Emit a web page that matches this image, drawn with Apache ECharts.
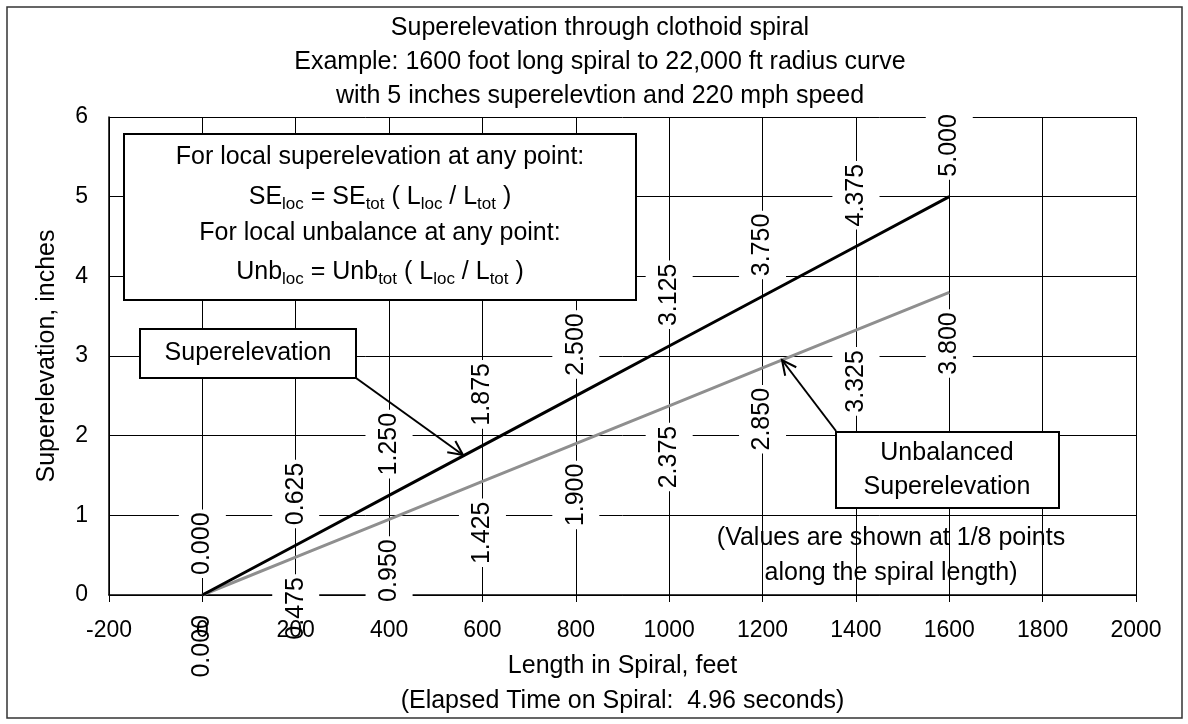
<!DOCTYPE html>
<html>
<head>
<meta charset="utf-8">
<script src="https://cdn.jsdelivr.net/npm/echarts@6/dist/echarts.min.js"></script>
<style>
  html, body { margin: 0; padding: 0; background: #fff; }
  #chart { width: 1188px; height: 724px; }
</style>
</head>
<body>
<div id="chart"></div>
<script>
// spiral length (ft) at 1/8 points
const spiralLen = [0, 200, 400, 600, 800, 1000, 1200, 1400, 1600];
const superElev = [0, 0.625, 1.25, 1.875, 2.5, 3.125, 3.75, 4.375, 5.0];
const unbalanced = [0, 0.475, 0.95, 1.425, 1.9, 2.375, 2.85, 3.325, 3.8];

const titleLines = [
  'Superelevation through clothoid spiral',
  'Example: 1600 foot long spiral to 22,000 ft radius curve',
  'with 5 inches superelevtion and 220 mph speed'
];

const FONT = '"Liberation Sans", Arial, sans-serif';

let chart = echarts.init(document.getElementById('chart'));

function pairs(ys) {
  return spiralLen.map((x, i) => [x, ys[i]]);
}

// open V arrow head at (x2,y2)
function arrowHead(x1, y1, x2, y2, len, ang) {
  let a = Math.atan2(y1 - y2, x1 - x2);
  return [
    [x2 + len * Math.cos(a + ang), y2 + len * Math.sin(a + ang)],
    [x2, y2],
    [x2 + len * Math.cos(a - ang), y2 + len * Math.sin(a - ang)]
  ];
}

function dataLabel(pos) {
  return {
    show: true,
    position: pos,
    distance: 17,
    rotate: 90,
    align: pos === 'top' ? 'left' : 'right',
    verticalAlign: 'middle',
    fontFamily: FONT,
    fontSize: 25,
    lineHeight: 25,
    color: '#000',
    backgroundColor: '#fff',
    padding: [11, 3],
    formatter: p => p.value[1].toFixed(3)
  };
}

let txt = (x, y, text, extra) => Object.assign({
  type: 'text',
  x: x, y: y,
  style: Object.assign({
    text: text,
    fill: '#000',
    font: '25px ' + FONT,
    align: 'center',
    verticalAlign: 'middle'
  }, extra || {})
});

let sub = { fontSize: 17, lineHeight: 17, verticalAlign: 'bottom', fontFamily: FONT };
let main = { fontSize: 25, lineHeight: 32, verticalAlign: 'middle', fontFamily: FONT };

let graphics = [
  // outer frame
  { type: 'rect', shape: { x: 7, y: 7, width: 1175, height: 711 },
    style: { fill: 'none', stroke: '#333', lineWidth: 1.5 }, z: 10 },
  txt(600, 28, titleLines[0]),
  txt(600, 62, titleLines[1]),
  txt(600, 96, titleLines[2]),

  // formula box
  { type: 'rect', shape: { x: 124, y: 134, width: 512, height: 166 },
    style: { fill: '#fff', stroke: '#000', lineWidth: 2 }, z: 20 },
  txt(380, 157, 'For local superelevation at any point:'),
  { type: 'text', x: 380, y: 197,
    style: {
      text: '{m|SE}{s|loc}{m| = SE}{s|tot}{m| ( L}{s|loc}{m| / L}{s|tot}{m| )}',
      rich: { m: main, s: sub }, fill: '#000', align: 'center', verticalAlign: 'middle'
    } },
  txt(380, 233, 'For local unbalance at any point:'),
  { type: 'text', x: 380, y: 272,
    style: {
      text: '{m|Unb}{s|loc}{m| = Unb}{s|tot}{m| ( L}{s|loc}{m| / L}{s|tot}{m| )}',
      rich: { m: main, s: sub }, fill: '#000', align: 'center', verticalAlign: 'middle'
    } },

  // Superelevation callout
  { type: 'line', shape: { x1: 356, y1: 378, x2: 463, y2: 455 },
    style: { stroke: '#000', lineWidth: 2 }, z: 20 },
  { type: 'polyline', shape: { points: arrowHead(356, 378, 463, 455, 16, 0.45) },
    style: { stroke: '#000', lineWidth: 2, fill: 'none' }, z: 20 },
  { type: 'rect', shape: { x: 140, y: 329, width: 216, height: 49 },
    style: { fill: '#fff', stroke: '#000', lineWidth: 2 }, z: 20 },
  txt(248, 353, 'Superelevation'),

  // Unbalanced callout
  { type: 'line', shape: { x1: 836, y1: 431, x2: 782, y2: 360 },
    style: { stroke: '#000', lineWidth: 2 }, z: 20 },
  { type: 'polyline', shape: { points: arrowHead(836, 431, 782, 360, 16, 0.45) },
    style: { stroke: '#000', lineWidth: 2, fill: 'none' }, z: 20 },
  { type: 'rect', shape: { x: 836, y: 432, width: 223, height: 76 },
    style: { fill: '#fff', stroke: '#000', lineWidth: 2 }, z: 20 },
  txt(947, 453, 'Unbalanced'),
  txt(947, 487, 'Superelevation'),

  txt(891, 538, '(Values are shown at 1/8 points'),
  txt(891, 573, 'along the spiral length)')
];
graphics.forEach(g => { if (g.type === 'text' && g.z == null) g.z = 21; });

let tickLabel = {
  color: '#000', fontSize: 23, margin: 24, fontFamily: FONT,
  showMinLabel: true, showMaxLabel: true,
  formatter: v => String(v)
};

let option = {
  animation: false,
  backgroundColor: '#fff',
  textStyle: { fontFamily: FONT },
  grid: { left: 109, right: 52, top: 117, bottom: 122 },
  xAxis: [{
    type: 'value',
    min: -200, max: 2000, interval: 200,
    name: 'Length in Spiral, feet\n(Elapsed Time on Spiral:  4.96 seconds)',
    nameLocation: 'middle',
    nameGap: 54,
    nameTextStyle: { color: '#000', fontSize: 25, lineHeight: 35, fontFamily: FONT, verticalAlign: 'top' },
    axisLine: { onZero: false, lineStyle: { color: '#000', width: 1.5 } },
    axisTick: { show: true, length: 7, lineStyle: { color: '#000' } },
    axisLabel: { show: false },
    splitLine: { show: true, lineStyle: { color: '#000', width: 1 } }
  }, {
    // same scale, only to draw the tick labels above the data labels
    type: 'value',
    position: 'bottom',
    min: -200, max: 2000, interval: 200,
    z: 10,
    axisLine: { show: false, onZero: false },
    axisTick: { show: false },
    axisLabel: tickLabel,
    splitLine: { show: false }
  }],
  yAxis: {
    type: 'value',
    min: 0, max: 6, interval: 1,
    name: 'Superelevation, inches',
    nameLocation: 'middle',
    nameGap: 49,
    nameTextStyle: { color: '#000', fontSize: 25, fontFamily: FONT },
    axisLine: { show: true, onZero: false, lineStyle: { color: '#000', width: 1.5 } },
    axisTick: { show: false },
    axisLabel: { color: '#000', fontSize: 23, margin: 21, fontFamily: FONT },
    splitLine: { show: true, lineStyle: { color: '#000', width: 1 } }
  },
  series: [
    {
      name: 'Superelevation',
      type: 'line',
      data: pairs(superElev),
      symbol: 'circle',
      symbolSize: 0,
      showSymbol: true,
      lineStyle: { color: '#000', width: 3 },
      itemStyle: { color: '#000' },
      label: dataLabel('top'),
      z: 3
    },
    {
      name: 'Unbalanced Superelevation',
      type: 'line',
      data: pairs(unbalanced),
      symbol: 'circle',
      symbolSize: 0,
      showSymbol: true,
      lineStyle: { color: '#8f8f8f', width: 3 },
      itemStyle: { color: '#8f8f8f' },
      label: dataLabel('bottom'),
      z: 2
    }
  ],
  graphic: graphics
};

chart.setOption(option);
</script>
</body>
</html>
